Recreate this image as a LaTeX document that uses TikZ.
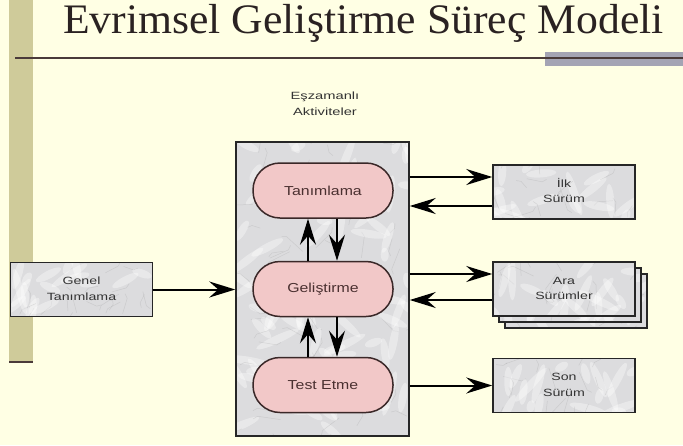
\documentclass[tikz,border=0pt]{standalone}
\usepackage{fontspec}
\setmainfont{Liberation Serif}
\setsansfont{Liberation Sans}
\usetikzlibrary{arrows.meta,calc}

\definecolor{bgyellow}{HTML}{FFFFE4}
\definecolor{barkhaki}{HTML}{CFCB9A}
\definecolor{bandgray}{HTML}{A4A4B4}
\definecolor{rulebrown}{HTML}{4A3A3A}
\definecolor{titlecol}{HTML}{2A2222}
\definecolor{marblegray}{HTML}{DCDCDE}
\definecolor{pillfill}{HTML}{F2C8C8}
\definecolor{pillline}{HTML}{3A2828}
\definecolor{labelcol}{HTML}{333333}
\definecolor{pilltext}{HTML}{4A3030}

% widened two-line label
\newcommand\wtxt[2]{\scalebox{#1}[1]{\begin{tabular}{@{}c@{}}#2\end{tabular}}}

\tikzset{
  marble/.style={fill=marblegray, path picture={
    \path (path picture bounding box.south west) coordinate (mSW)
          (path picture bounding box.north east) coordinate (mNE);
    \foreach \k in {1,...,#1}{
      \pgfmathsetmacro\rx{rnd}\pgfmathsetmacro\ry{rnd}
      \pgfmathsetmacro\ra{rnd*360}\pgfmathsetmacro\rl{6+rnd*18}
      \fill[white, opacity=0.35] let \p1=(mSW), \p2=(mNE) in
        ({\x1+\rx*(\x2-\x1)},{\y1+\ry*(\y2-\y1)}) ellipse [x radius=\rl pt, y radius=4pt, rotate=\ra];
      \draw[gray!80, opacity=0.25, line width=0.5pt] let \p1=(mSW), \p2=(mNE) in
        ({\x1+\ry*(\x2-\x1)},{\y1+\rx*(\y2-\y1)}) -- ++(\ra:\rl pt) -- ++(\ra+40:5pt);
    }
  }},
  marblebox/.style={draw=black!85, line width=1.5pt, marble=#1, inner sep=0pt},
  outbox/.style={marblebox=18, minimum width=142pt, minimum height=54pt,
    font=\sffamily\fontsize{10.5}{15.5}\selectfont, text=labelcol},
  pill/.style={draw=pillline, fill=pillfill, line width=1.5pt, rounded corners=27pt,
    minimum width=140pt, minimum height=55pt, inner sep=0pt,
    font=\sffamily\fontsize{13}{14}\selectfont, text=pilltext},
  bigtip/.tip={Stealth[length=26pt, width=16pt, inset=9pt]},
  arr/.style={line width=2pt, draw=black, arrows={-bigtip}}
}

\begin{document}
\begin{tikzpicture}[x=1pt,y=-1pt]
\pgfmathsetseed{42}
\useasboundingbox (0,0) rectangle (683,445);
\fill[bgyellow] (0,0) rectangle (683,445);

% slide decoration: side bar and title rule
\fill[barkhaki] (9,0) rectangle (33,362);
\draw[rulebrown, line width=2pt] (9,362) -- (33,362);
\fill[bandgray] (545,52) rectangle (683,66);
\draw[rulebrown, line width=1.6pt] (15,58) -- (683,58);

\node[anchor=base west, inner sep=0pt, text=titlecol,
      font=\fontsize{42}{42}\selectfont] (title) at (63,33)
  {\scalebox{1.04}[1]{Evrimsel Geliştirme Süreç Modeli}};

% concurrent activities
\node[font=\sffamily\fontsize{10.5}{16}\selectfont, text=labelcol] (cap) at (325,104)
  {\wtxt{1.4}{Eşzamanlı\\Aktiviteler}};
\node[marblebox=80, minimum width=173pt, minimum height=294pt] (main) at (322.5,289) {};

\node[pill] (tan)  at (323,190.5) {\scalebox{1.22}[1]{Tanımlama}};
\node[pill] (gel)  at (323,289)   {\scalebox{1.22}[1]{Geliştirme}};
\node[pill] (test) at (323,385)   {\scalebox{1.22}[1]{Test Etme}};

% inputs and outputs
\node[outbox] (genel) at (81.5,289.5) {\wtxt{1.35}{Genel\\Tanımlama}};
\node[outbox] (ilk) at (564,192) {\wtxt{1.35}{İlk\\Sürüm}};
\node[outbox] (ara3) at (576,301) {};
\node[outbox] (ara2) at (570,295) {};
\node[outbox] (ara) at (564,289) {\wtxt{1.35}{Ara\\Sürümler}};
\node[outbox] (son) at (564,385.5) {\wtxt{1.35}{Son\\Sürüm}};

% connectors
\draw[arr] (genel.east) -- (genel.east -| main.west);

\coordinate (i1) at ([yshift=15pt]ilk.west);
\coordinate (i2) at ([yshift=-14pt]ilk.west);
\draw[arr] (main.east |- i1) -- (i1);
\draw[arr] (i2) -- (main.east |- i2);

\coordinate (a1) at ([yshift=15pt]ara.west);
\coordinate (a2) at ([yshift=-11pt]ara.west);
\draw[arr] (main.east |- a1) -- (a1);
\draw[arr] (a2) -- (main.east |- a2);

\draw[arr] (main.east |- son.west) -- (son.west);

\coordinate (u1) at ([xshift=-15pt]gel.north);
\coordinate (d1) at ([xshift=14pt]tan.south);
\draw[arr] (u1) -- (u1 |- tan.south);
\draw[arr] (d1) -- (d1 |- gel.north);
\coordinate (u2) at ([xshift=-15pt]test.north);
\coordinate (d2) at ([xshift=14pt]gel.south);
\draw[arr] (u2) -- (u2 |- gel.south);
\draw[arr] (d2) -- (d2 |- test.north);
\end{tikzpicture}
\end{document}
